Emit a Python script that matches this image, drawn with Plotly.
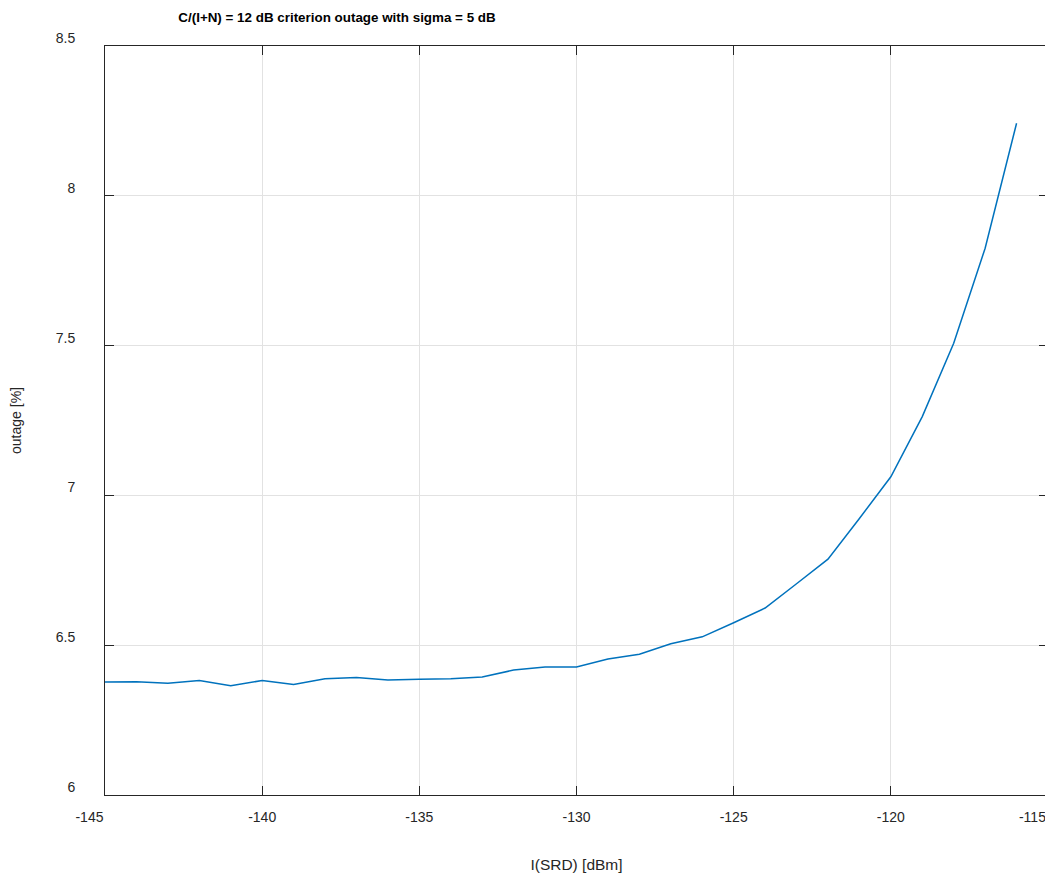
import plotly.graph_objects as go

isrd_dbm = list(range(-145, -115))
outage_pct = [6.377, 6.378, 6.373, 6.382, 6.365, 6.382, 6.369, 6.388, 6.392, 6.384,
              6.386, 6.388, 6.394, 6.417, 6.427, 6.427, 6.454, 6.470, 6.505, 6.528,
              6.575, 6.624, 6.705, 6.787, 6.923, 7.062, 7.263, 7.508, 7.825, 8.242]

x_ticks = [-145, -140, -135, -130, -125, -120, -115]
x_tick_labels = ["-145" + "\u00a0" * 8, "-140", "-135", "-130", "-125", "-120",
                 "-115" + "\u00a0" * 8]
y_ticks = [6, 6.5, 7, 7.5, 8, 8.5]
y_tick_labels = ["6", "6.5", "7", "7.5", "8", "8.5"]

font_family = "Liberation Sans, Arial"
# page has an 8px body margin; figure is sized/offset to compensate
OFF = 8

fig = go.Figure()
fig.add_trace(go.Scatter(x=isrd_dbm, y=outage_pct, mode="lines",
                         line=dict(color="#0072BD", width=1.5), showlegend=False))

axis_common = dict(showline=True, linecolor="#262626", linewidth=1, mirror="allticks",
                   ticks="inside", ticklen=9, tickcolor="#262626",
                   showgrid=True, gridcolor="#e2e2e2", gridwidth=1, zeroline=False,
                   automargin=False, ticklabeloverflow="allow",
                   tickfont=dict(family=font_family, size=14, color="#262626"))

W, H = 1053 - OFF, 873 - OFF
fig.update_layout(
    width=W, height=H,
    margin=dict(l=105 - OFF, r=5, t=46 - OFF, b=78),
    plot_bgcolor="white", paper_bgcolor="white",
    title=dict(text="<b>C/(I+N) = 12 dB criterion outage with sigma = 5 dB</b>",
               x=(337 - OFF) / W, xanchor="center", y=1 - (17 - OFF) / H, yanchor="middle",
               font=dict(family=font_family, size=13.4, color="black")),
    xaxis=dict(range=[-145, -115], tickvals=x_ticks, ticktext=x_tick_labels,
               ticklabelstandoff=9,
               title=dict(text="I(SRD) [dBm]", standoff=37,
                          font=dict(family=font_family, size=15.5, color="#262626")),
               **axis_common),
    yaxis=dict(range=[6, 8.5], tickvals=y_ticks, ticktext=y_tick_labels,
               ticklabelstandoff=26, ticklabelshift=-8,
               title=dict(text="outage [%]", standoff=40,
                          font=dict(family=font_family, size=14, color="#262626")),
               **axis_common),
)

fig.write_html("out.html")
